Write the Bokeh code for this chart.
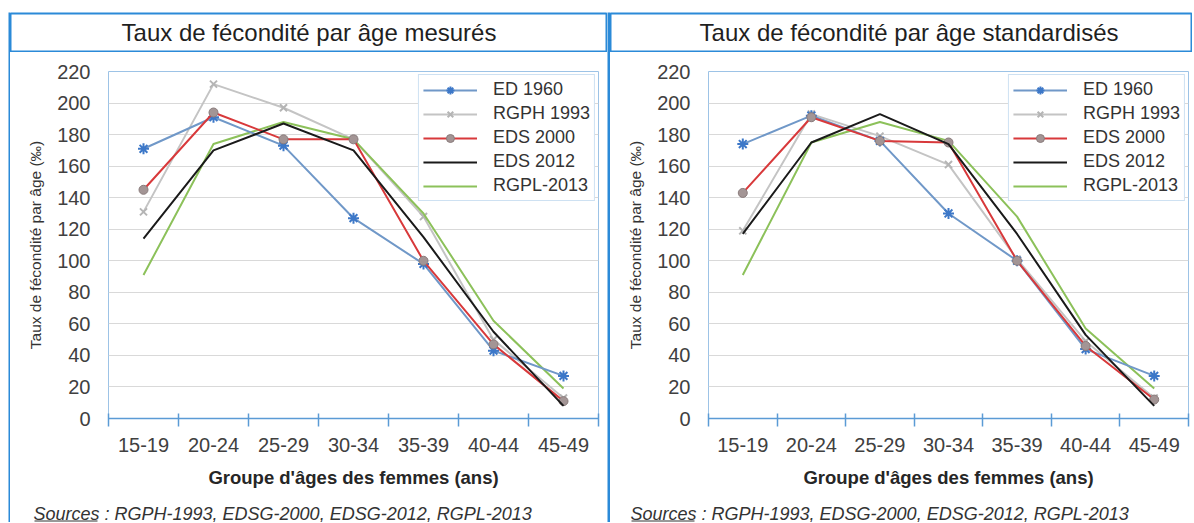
from bokeh.plotting import figure
from bokeh.layouts import row, column
from bokeh.models import Range1d, FixedTicker, Legend, LegendItem
from bokeh.core.properties import value
from bokeh.embed import file_html
from bokeh.resources import INLINE

# ---------------- data ----------------
ages = ["15-19", "20-24", "25-29", "30-34", "35-39", "40-44", "45-49"]
series_names = ["ED 1960", "RGPH 1993", "EDS 2000", "EDS 2012", "RGPL-2013"]

# Taux de fécondité par âge mesurés (‰)
ed1960_mes = [171, 191, 173, 127, 98, 43, 27]
rgph1993_mes = [131, 212, 197, 177, 128, 50, 13]
eds2000_mes = [145, 194, 177, 177, 100, 47, 11]
eds2012_mes = [114, 170, 187, 170, 115, 55, 8]
rgpl2013_mes = [91, 174, 188, 177, 130, 62, 19]

# Taux de fécondité par âge standardisés (‰)
ed1960_std = [174, 192, 176, 130, 100, 44, 27]
rgph1993_std = [119, 193, 179, 161, 101, 49, 13]
eds2000_std = [143, 191, 176, 175, 100, 46, 12]
eds2012_std = [117, 175, 193, 174, 117, 53, 8]
rgpl2013_std = [91, 175, 188, 176, 128, 57, 19]

y_ticks = [0, 20, 40, 60, 80, 100, 120, 140, 160, 180, 200, 220]

title_mes = "Taux de fécondité par âge mesurés"
title_std = "Taux de fécondité par âge standardisés"
x_title = "Groupe d'âges des femmes (ans)"
y_title = "Taux de fécondité par âge (‰)"
source_word = "Sources"
source_text = "Sources : RGPH-1993, EDSG-2000, EDSG-2012, RGPL-2013"

# ---------------- styles ----------------
FONT = "Liberation Sans"
BLUE = "#2b8ad8"
FRAME = "#9dc3e6"
AXIS = "#5b9bd5"
TOTAL_H = 522
TITLE_H = 52
SRC_H = 22
PLOT_H = TOTAL_H - TITLE_H - SRC_H

styles = {
    "ED 1960": dict(line="#7098c8", marker="asterisk", mcolor="#3d78c8", msize=11),
    "RGPH 1993": dict(line="#c4c4c4", marker="x", mcolor="#b5b5b5", msize=10),
    "EDS 2000": dict(line="#d8393b", marker="circle", mcolor="#a39595", msize=9),
    "EDS 2012": dict(line="#1a1a1a", marker=None),
    "RGPL-2013": dict(line="#8cc15a", marker=None),
}
draw_order = ["RGPH 1993", "RGPL-2013", "ED 1960", "EDS 2000", "EDS 2012"]


def vbar(w, left_pad):
    f = figure(width=w, height=TOTAL_H, output_backend="svg", toolbar_location=None,
               x_axis_type=None, y_axis_type=None,
               min_border_top=12, min_border_bottom=0, min_border_left=left_pad, min_border_right=0,
               background_fill_color=BLUE, border_fill_color="white", outline_line_color=None)
    return f


def title_fig(w, text):
    f = figure(width=w, height=TITLE_H, output_backend="svg", toolbar_location=None,
               x_range=Range1d(0, w), y_range=Range1d(0, 1),
               x_axis_type=None, y_axis_type=None,
               min_border_top=13, min_border_bottom=1, min_border_left=0, min_border_right=0,
               background_fill_color="white", border_fill_color="white",
               outline_line_color=BLUE, outline_line_width=2)
    f.text(x=[298.5], y=[0.5], text=[text], text_font=value(FONT), text_font_size="24px",
           text_align="center", text_baseline="middle", text_color="#1f1f1f")
    return f


def source_fig(w, x0):
    f = figure(width=w, height=SRC_H, output_backend="svg", toolbar_location=None,
               x_range=Range1d(0, w), y_range=Range1d(0, SRC_H),
               x_axis_type=None, y_axis_type=None,
               min_border_top=0, min_border_bottom=0, min_border_left=0, min_border_right=0,
               background_fill_color="white", border_fill_color="white", outline_line_color=None)
    f.text(x=[x0], y=[9], text=[source_text], text_font=value(FONT), text_font_size="18px",
           text_font_style="italic", text_align="left", text_baseline="middle", text_color="#333333")
    # underline of the word "Sources"
    f.segment(x0=[x0 + 1], y0=[1.5], x1=[x0 + 64], y1=[1.5], line_color="#333333", line_width=1)
    return f


def panel(w, mbr, data):
    p = figure(width=w, height=PLOT_H, output_backend="svg", toolbar_location=None,
               x_range=Range1d(0.5, 7.5), y_range=Range1d(0, 220),
               min_border_left=98, min_border_right=mbr, min_border_top=19,
               min_border_bottom=TITLE_H + PLOT_H - 418,
               background_fill_color="white", border_fill_color="white",
               outline_line_color=FRAME, outline_line_width=1)
    xs = list(range(1, len(ages) + 1))

    xa = p.xaxis[0]
    xa.ticker = FixedTicker(ticks=xs, minor_ticks=[i + 0.5 for i in range(0, len(ages) + 1)])
    xa.major_label_overrides = {i + 1: a for i, a in enumerate(ages)}
    xa.major_tick_line_color = None
    xa.major_tick_in = 0
    xa.major_tick_out = 0
    xa.minor_tick_line_color = AXIS
    xa.minor_tick_line_width = 1.5
    xa.minor_tick_in = 5
    xa.minor_tick_out = 8
    xa.axis_line_color = AXIS
    xa.axis_line_width = 1.5
    xa.major_label_text_font = FONT
    xa.major_label_text_font_size = "20px"
    xa.major_label_text_color = "#404040"
    xa.major_label_standoff = 11
    xa.axis_label = x_title
    xa.axis_label_text_font = FONT
    xa.axis_label_text_font_style = "bold"
    xa.axis_label_text_font_size = "18.5px"
    xa.axis_label_text_color = "#262626"
    xa.axis_label_standoff = 12

    ya = p.yaxis[0]
    ya.ticker = FixedTicker(ticks=y_ticks)
    ya.axis_line_color = None
    ya.major_tick_line_color = None
    ya.major_tick_in = 0
    ya.major_tick_out = 0
    ya.minor_tick_line_color = None
    ya.major_label_text_font = FONT
    ya.major_label_text_font_size = "20px"
    ya.major_label_text_color = "#404040"
    ya.major_label_standoff = 18
    ya.axis_label = y_title
    ya.axis_label_text_font = FONT
    ya.axis_label_text_font_style = "normal"
    ya.axis_label_text_font_size = "15.5px"
    ya.axis_label_text_color = "#333333"
    ya.axis_label_standoff = 10

    p.xgrid.grid_line_color = None
    p.ygrid.grid_line_color = "#d9d9d9"
    p.ygrid.grid_line_width = 1

    rends = {}
    for name in draw_order:
        st = styles[name]
        vals = data[name]
        lr = p.line(xs, vals, line_color=st["line"], line_width=2)
        rs = [lr]
        if st["marker"]:
            if st["marker"] == "circle":
                sr = p.scatter(xs, vals, marker="circle", size=st["msize"], fill_color=st["mcolor"],
                               line_color="#8a7c7c", line_width=1)
            else:
                sr = p.scatter(xs, vals, marker=st["marker"], size=st["msize"], line_color=st["mcolor"],
                               line_width=2)
            rs.append(sr)
        rends[name] = rs

    items = [LegendItem(label=n, renderers=rends[n]) for n in series_names]
    leg = Legend(items=items, location="top_right", margin=3, padding=4, spacing=3,
                 glyph_width=54, glyph_height=20, label_height=20, label_standoff=16,
                 label_text_font=FONT, label_text_font_size="18px", label_text_color="#333333",
                 border_line_color=FRAME, border_line_width=1, background_fill_color="white",
                 background_fill_alpha=1.0)
    p.add_layout(leg)
    return p


data_mes = {"ED 1960": ed1960_mes, "RGPH 1993": rgph1993_mes, "EDS 2000": eds2000_mes,
            "EDS 2012": eds2012_mes, "RGPL-2013": rgpl2013_mes}
data_std = {"ED 1960": ed1960_std, "RGPH 1993": rgph1993_std, "EDS 2000": eds2000_std,
            "EDS 2012": eds2012_std, "RGPL-2013": rgpl2013_std}

left_col = column(row(title_fig(597, title_mes)), row(panel(597, 9, data_mes)),
                  row(source_fig(597, 23)))
right_col = column(row(title_fig(582, title_std)), row(panel(582, 4, data_std)),
                   row(source_fig(582, 20)))
layout = row(vbar(10, 8), left_col, vbar(3, 0), right_col)

open("out.html", "w").write(file_html(layout, INLINE))
